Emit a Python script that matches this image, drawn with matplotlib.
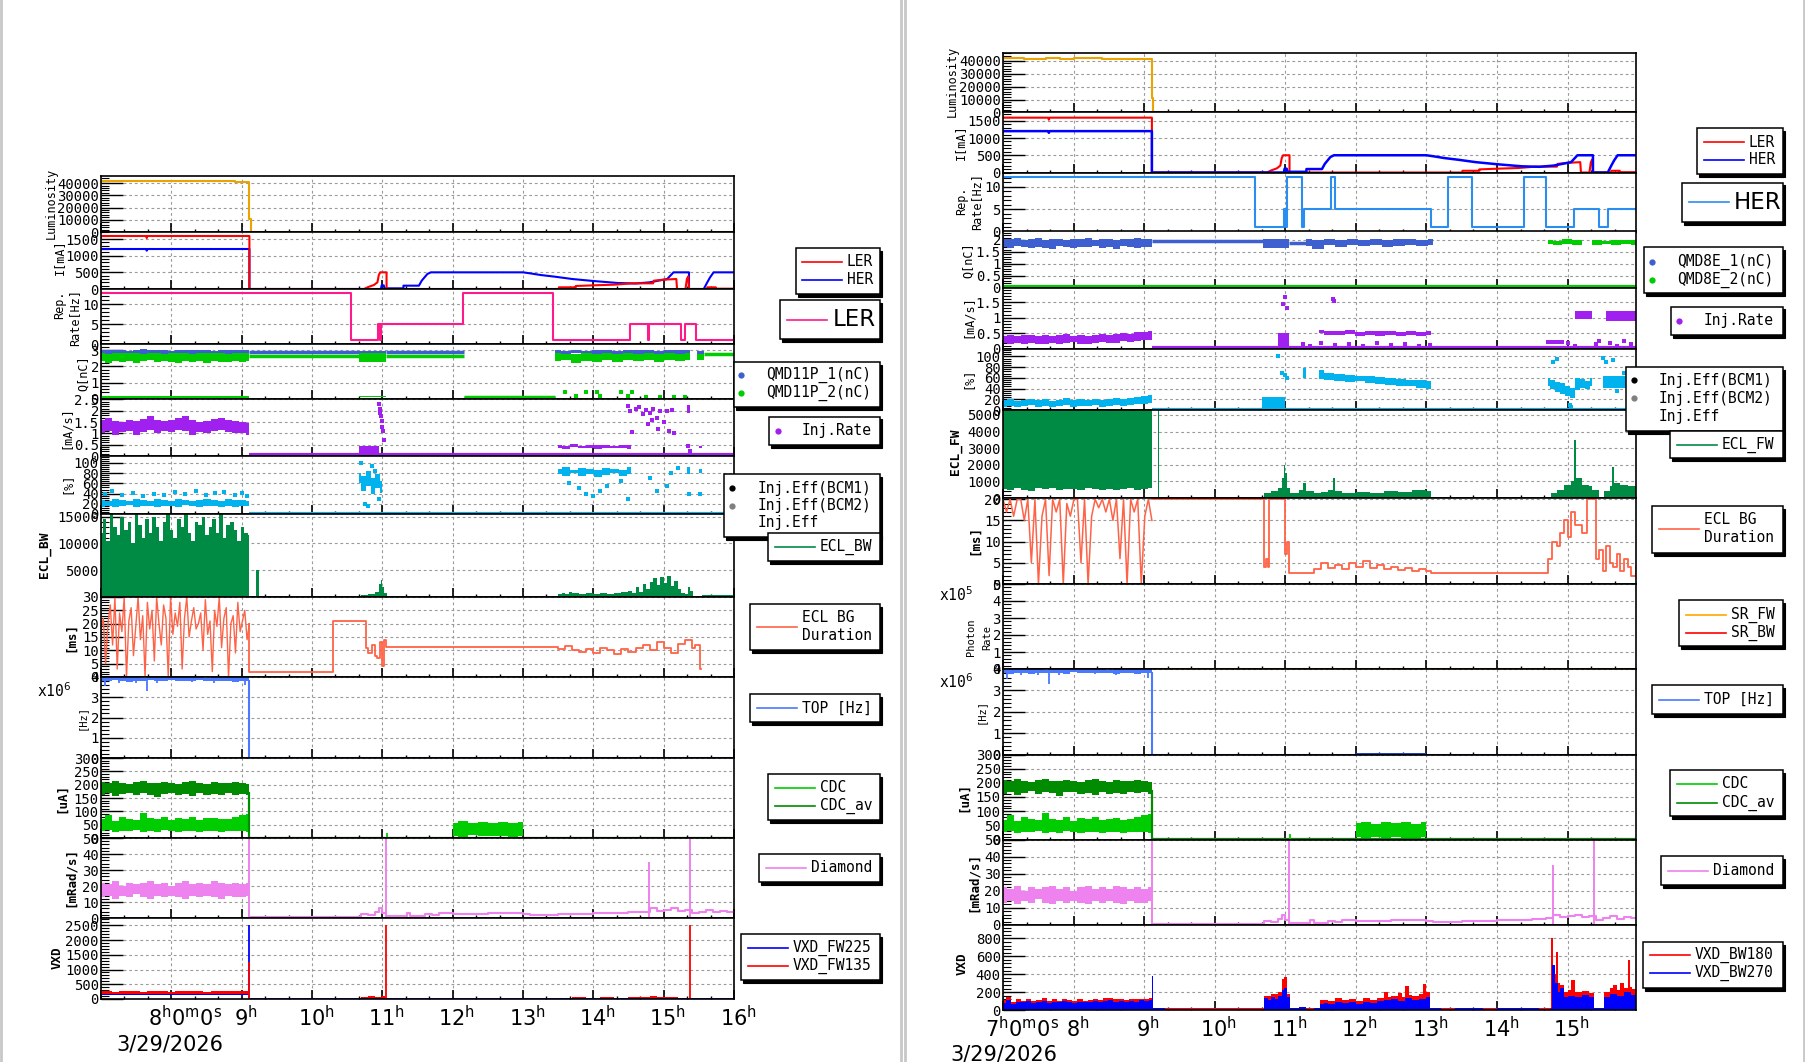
import numpy as np
import matplotlib.pyplot as plt
from matplotlib.patches import Rectangle
from matplotlib.lines import Line2D
from matplotlib.ticker import MultipleLocator, FixedLocator, FuncFormatter

W, H = 1806, 1062
fig = plt.figure(figsize=(W / 100, H / 100), dpi=100)
MONO = 'DejaVu Sans Mono'
SANS = 'DejaVu Sans'

T_DUMP = 9.11      # beam abort
T_END_L = 16.0
T_END_R = 15.97

# ---------------- data ----------------
# values during collisions (7:00 - 9:07), evenly spaced samples
LUMI_ON = [41900, 42100, 41800, 41700, 41600, 41700, 41900, 41800, 41600, 41700, 42000,
           41900, 42100, 41900, 41600, 41500, 41600, 41400, 41500, 41200, 41300, 41000]

LER_I = [(7.0, 1590), (7.64, 1590), (7.65, 1530), (7.66, 1590), (9.11, 1590), (9.11, 0),
         (10.74, 0), (10.8, 60), (10.88, 120), (10.93, 200), (10.95, 420), (10.97, 500),
         (11.06, 500), (11.06, 0), (13.51, 0), (13.51, 50), (13.75, 50), (13.75, 90),
         (14.0, 110), (14.3, 130), (14.55, 170), (14.85, 170), (14.86, 250), (15.0, 280),
         (15.18, 300), (15.19, 0), (15.31, 0), (15.33, 300), (15.35, 380), (15.36, 0),
         (15.62, 0), (15.62, 50), (15.74, 50), (15.74, 10), (16.0, 10)]
HER_I = [(7.0, 1200), (7.64, 1200), (7.65, 1150), (7.66, 1200), (9.11, 1200), (9.11, 0),
         (10.98, 0), (10.99, 110), (11.02, 110), (11.03, 20), (11.3, 20), (11.3, 100),
         (11.52, 100), (11.56, 250), (11.6, 350), (11.64, 450), (11.69, 500), (13.0, 500),
         (13.1, 470), (13.25, 420), (13.45, 370), (13.7, 300), (14.0, 240), (14.35, 180),
         (14.6, 165), (14.8, 200), (14.95, 260), (15.05, 300), (15.14, 500), (15.36, 500),
         (15.36, 0), (15.57, 0), (15.62, 200), (15.66, 350), (15.71, 500), (16.0, 500)]

REP_LER = [(7.0, 12.9), (10.55, 1), (10.94, 5), (10.965, 1), (10.975, 5), (12.14, 12.9),
           (13.42, 1), (14.52, 5), (14.78, 1), (14.795, 5), (15.24, 1), (15.31, 5),
           (15.46, 1), (16.0, 1)]
REP_HER = [(7.0, 12.3), (10.57, 1), (10.98, 5), (11.01, 1), (11.02, 12.3), (11.23, 1),
           (11.27, 5), (11.65, 12.3), (11.7, 5), (13.07, 1), (13.3, 12.3), (13.64, 1),
           (14.38, 12.3), (14.7, 1), (15.09, 5), (15.45, 1), (15.58, 5), (15.97, 5)]

# LER injection (left page)
Q1_LER_ON = [(2.72, 3.02), (2.70, 2.98), (2.74, 3.03), (2.70, 3.00), (2.72, 2.97), (2.69, 3.01),
             (2.73, 3.04), (2.71, 2.99), (2.70, 3.00), (2.74, 3.02), (2.70, 2.97), (2.72, 3.00),
             (2.70, 3.03), (2.68, 3.00), (2.73, 2.98), (2.70, 3.01), (2.72, 2.97), (2.70, 3.00),
             (2.74, 3.02), (2.69, 2.98), (2.72, 3.01), (2.70, 2.99)]
Q2_LER_ON = [(2.30, 2.82), (2.20, 2.78), (2.35, 2.80), (2.25, 2.84), (2.32, 2.79), (2.22, 2.82),
             (2.30, 2.78), (2.36, 2.83), (2.24, 2.80), (2.30, 2.77), (2.28, 2.82), (2.20, 2.80),
             (2.33, 2.84), (2.26, 2.78), (2.30, 2.81), (2.22, 2.79), (2.34, 2.83), (2.28, 2.80),
             (2.25, 2.78), (2.32, 2.82), (2.27, 2.80), (2.30, 2.79)]
Q1_LER_LATE = [(2.78, 3.0), (2.72, 2.95), (2.8, 3.02), (2.75, 2.97), (2.7, 2.99), (2.78, 3.03),
               (2.74, 2.96), (2.8, 3.0), (2.72, 2.98), (2.76, 3.02), (2.7, 2.95), (2.78, 3.0),
               (2.74, 2.98), (2.8, 3.03)]
Q2_LER_LATE = [(2.3, 2.8), (2.4, 2.75), (2.2, 2.78), (2.35, 2.82), (2.28, 2.74), (2.4, 2.8),
               (2.25, 2.76), (2.36, 2.82), (2.3, 2.78), (2.42, 2.8), (2.26, 2.75), (2.38, 2.81),
               (2.32, 2.77), (2.4, 2.8)]
Q1_LER_LINES = [(9.11, 10.67, 2.85), (11.05, 12.16, 2.85), (12.16, 13.46, 0.08)]
Q2_LER_LINES = [(9.11, 10.67, 2.66), (11.05, 12.16, 2.66), (12.16, 13.46, 0.14), (15.57, 16.0, 2.74)]
Q1_LER_CL = [(10.67, 11.05, 2.7, 2.95), (15.47, 15.57, 2.7, 2.95)]
Q2_LER_CL = [(7.0, 9.11, 0.09, 0.19), (10.67, 11.05, 2.25, 2.8), (15.47, 15.57, 2.4, 2.78),
             (10.67, 11.05, 0.1, 0.18)]
Q_LER_PTS = [(13.6, 0.45), (13.75, 0.2), (13.9, 0.45), (14.05, 0.45), (14.1, 0.2), (14.4, 0.45),
             (14.5, 0.2), (14.55, 0.45), (14.75, 0.1), (14.95, 0.1), (15.15, 0.1), (15.3, 0.15)]

RATE_LER_ON = [(1.00, 1.60), (1.10, 1.70), (0.95, 1.55), (1.05, 1.50), (1.10, 1.60), (0.95, 1.55),
               (1.05, 1.65), (1.15, 1.75), (1.00, 1.60), (1.10, 1.55), (1.05, 1.60), (1.15, 1.70),
               (1.10, 1.75), (0.95, 1.60), (1.05, 1.50), (1.00, 1.55), (1.10, 1.65), (1.15, 1.70),
               (1.05, 1.60), (1.00, 1.55), (1.00, 1.50), (0.95, 1.45)]
RATE_LER_LATE = [(0.36, 0.48), (0.33, 0.45), (0.38, 0.52), (0.34, 0.46), (0.36, 0.5), (0.32, 0.47),
                 (0.37, 0.5), (0.34, 0.45), (0.36, 0.49), (0.33, 0.47)]
RATE_LER_CL = [(10.67, 10.95, 0.1, 0.45), (15.33, 15.38, 1.9, 2.25), (15.5, 15.55, 0.35, 0.45)]
RATE_LER_PTS = [(10.95, 2.3), (10.96, 2.1), (10.97, 1.9), (10.98, 1.75), (10.99, 1.55), (11.0, 1.3),
                (11.01, 1.1), (11.02, 0.7), (14.5, 2.2), (14.52, 2.0), (14.55, 1.05), (14.6, 2.1),
                (14.65, 2.15), (14.7, 1.85), (14.75, 2.05), (14.78, 1.4), (14.8, 1.9), (14.83, 1.6),
                (14.85, 2.1), (14.9, 1.7), (14.92, 1.2), (14.95, 2.0), (15.0, 1.5), (15.05, 2.0),
                (15.08, 1.1), (15.12, 2.05), (15.15, 1.0), (15.35, 0.45), (15.37, 0.2)]

EFF_LER_ON = [(14, 28), (16, 26), (13, 30), (15, 27), (17, 25), (14, 29), (16, 27), (15, 26),
              (13, 30), (16, 28), (15, 26), (14, 29), (17, 27), (15, 25), (14, 28), (16, 30),
              (15, 27), (13, 26), (16, 29), (14, 27), (15, 28), (16, 26)]
EFF_LER_LATE = [(78, 88), (74, 92), (80, 86), (75, 90), (79, 89), (73, 86), (77, 91), (80, 88),
                (75, 87), (78, 92)]
EFF_LER_CL = [(15.33, 15.38, 78, 92), (15.5, 15.55, 80, 88)]
EFF_LER_EARLY = [(60, 80), (45, 75), (55, 85), (40, 70), (50, 78), (42, 65)]
EFF_LER_PTS = [(7.05, 40), (7.15, 45), (7.3, 37), (7.45, 42), (7.6, 36), (7.75, 40), (7.9, 38),
               (8.05, 43), (8.2, 39), (8.35, 45), (8.5, 37), (8.62, 41), (8.75, 44), (8.9, 38),
               (9.0, 42), (9.08, 36), (10.7, 100), (10.75, 20), (10.8, 15), (10.85, 95),
               (10.9, 85), (10.95, 30), (13.65, 60), (13.8, 50), (13.9, 40), (14.0, 35),
               (14.1, 45), (14.2, 55), (14.4, 65), (14.5, 30), (14.8, 70), (14.9, 45),
               (15.05, 55), (15.1, 80), (15.2, 90), (15.36, 40), (15.52, 40)]

ECL_BW_ON = [12000, 14500, 10500, 15500, 13000, 11500, 15000, 12500, 14000, 10000, 15500,
             13500, 11000, 14500, 12000, 15000, 13000, 10500, 14000, 15500, 12500, 11000,
             14500, 13000, 15500, 12000, 10500, 14000, 13500, 15000, 11500, 13000, 14500,
             12000, 15500, 11000, 13500, 14000, 12500, 10500, 13000, 12000, 11500]
ECL_BW_AFTER = [(9.11, 0), (9.2, 5000), (9.24, 0), (10.7, 400), (10.8, 600), (10.9, 900),
                (10.95, 2500), (10.98, 3200), (11.0, 1800), (11.03, 800), (11.06, 0),
                (13.5, 500), (13.55, 800), (13.6, 600), (13.65, 900), (13.7, 700), (13.8, 600),
                (13.9, 800), (14.0, 500), (14.1, 700), (14.2, 600), (14.3, 800), (14.4, 900),
                (14.5, 1200), (14.55, 800), (14.6, 1800), (14.65, 1000), (14.7, 2500),
                (14.75, 1500), (14.8, 2800), (14.85, 3500), (14.9, 2200), (14.95, 3800),
                (15.0, 2600), (15.05, 4000), (15.1, 2000), (15.15, 3000), (15.2, 1500),
                (15.25, 800), (15.3, 500), (15.35, 1800), (15.38, 1200), (15.42, 0),
                (15.55, 400), (15.7, 300), (15.8, 350), (15.9, 300), (16.0, 300)]

DUR_LER_ON = [18, 22, 5, 20, 27, 12, 30, 3, 24, 17, 30, 0, 21, 26, 8, 19, 30, 14, 23, 0, 28,
              18, 25, 6, 30, 20, 12, 27, 22, 0, 30, 16, 24, 19, 28, 3, 22, 30, 15, 21, 26, 18, 20,
              24, 10, 29, 16, 21, 2, 25, 19, 30, 11, 22, 26, 0, 20, 23, 9, 28, 17, 21, 25, 14, 20]
DUR_LER_AFTER = [(9.11, 2), (10.3, 21), (10.77, 11), (10.8, 9), (10.85, 12), (10.9, 8),
                 (10.93, 7), (10.97, 13), (11.0, 4), (11.02, 14), (11.05, 11.2), (13.5, 10.5),
                 (13.6, 11.5), (13.7, 10), (13.8, 9.5), (13.9, 10.5), (14.0, 9), (14.1, 11),
                 (14.2, 10), (14.3, 8.5), (14.4, 10.5), (14.5, 9.5), (14.6, 11), (14.7, 12),
                 (14.8, 10), (14.9, 13), (15.0, 11), (15.1, 9), (15.2, 12.5), (15.3, 14),
                 (15.4, 11), (15.45, 12), (15.52, 3), (15.53, 3)]

# shared detector pages
TOP_ON = [(3.80, 3.99), (3.78, 3.98), (3.83, 4.0), (3.80, 3.98), (3.76, 3.99), (3.82, 4.0),
          (3.79, 3.97), (3.83, 3.99), (3.81, 4.0), (3.78, 3.98), (3.84, 3.99), (3.80, 4.0),
          (3.82, 3.98), (3.79, 3.99), (3.83, 4.0), (3.80, 3.97), (3.78, 3.99), (3.82, 4.0),
          (3.80, 3.98), (3.77, 3.99), (3.81, 4.0), (3.79, 3.98)]
TOP_DIPS = [(7.05, 3.55), (7.25, 3.7), (7.5, 3.7), (7.65, 3.3), (7.8, 3.7), (8.3, 3.75),
            (8.6, 3.7), (9.05, 3.6)]
CDC_AV_ON = [(162, 210), (168, 205), (158, 212), (165, 208), (170, 203), (160, 210), (167, 214),
             (163, 207), (155, 205), (166, 211), (169, 208), (161, 204), (164, 209), (158, 213),
             (168, 206), (162, 203), (165, 209), (160, 207), (167, 205), (163, 210), (166, 206),
             (160, 204)]
CDC_ON = [(25, 70), (30, 85), (22, 65), (28, 78), (25, 72), (30, 68), (24, 95), (27, 74), (22, 70),
          (30, 80), (26, 66), (24, 75), (28, 72), (25, 78), (23, 69), (27, 74), (26, 76), (24, 70),
          (28, 72), (25, 80), (27, 85), (24, 90)]
CDC_LATE = [(8, 58), (5, 62), (10, 55), (6, 60), (9, 57), (7, 60), (5, 56), (8, 61)]
DIA_ON = [(13, 22), (14, 21), (12, 23), (14, 20), (13, 22), (15, 21), (13, 22), (12, 23), (14, 21),
          (13, 22), (14, 20), (13, 22), (12, 23), (14, 21), (13, 22), (14, 21), (13, 23), (12, 22),
          (14, 21), (13, 22), (13, 21), (14, 22)]
DIA_AFTER = [(9.11, 0.8), (10.65, 0.8), (10.7, 2.5), (10.8, 2), (10.9, 3.5), (10.95, 6), (11.0, 3),
             (11.05, 1), (11.3, 1), (11.35, 3), (11.4, 1.2), (11.6, 2.5), (11.7, 2), (11.8, 3),
             (12.0, 2.5), (12.5, 3), (13.0, 2.5), (13.1, 2), (13.5, 2.5), (14.0, 3), (14.5, 3.5),
             (14.7, 4), (14.8, 6), (14.9, 4.5), (15.0, 5), (15.1, 6), (15.2, 4.5), (15.3, 5),
             (15.4, 3), (15.5, 4), (15.6, 5), (15.7, 3.5), (15.8, 4.5), (15.9, 4), (16.0, 3.5)]
DIA_SPIKES = [(9.11, 50), (11.05, 50), (14.79, 35), (15.38, 52)]

VXD135_ON = [(180, 255), (175, 260), (182, 250), (178, 258), (176, 262), (180, 255), (184, 250),
             (178, 258), (175, 265), (180, 255), (182, 252), (176, 260), (180, 258), (178, 262),
             (183, 255), (177, 250), (180, 258), (176, 265), (179, 270), (181, 260), (178, 255),
             (180, 258)]
VXD135_AFTER = [(10.7, 60), (10.8, 90), (10.9, 70), (11.0, 100), (11.04, 0), (13.5, 40),
                (13.7, 60), (13.9, 45), (14.1, 55), (14.3, 50), (14.5, 65), (14.7, 80),
                (14.8, 110), (14.9, 70), (15.0, 75), (15.1, 60), (15.2, 40), (15.3, 0),
                (15.6, 40), (15.7, 0)]
VXD_L_SPIKES_BLUE = [(9.11, 2500)]
VXD_L_SPIKES_RED = [(9.11, 1250), (11.05, 2500), (15.37, 2500)]

# HER injection (right page)
Q1_HER_ON = [(1.72, 2.05), (1.68, 2.02), (1.75, 2.06), (1.70, 2.00), (1.65, 2.04), (1.72, 2.07),
             (1.68, 2.01), (1.62, 2.03), (1.74, 2.05), (1.70, 2.00), (1.66, 2.04), (1.72, 2.02),
             (1.69, 2.06), (1.75, 2.01), (1.67, 2.03), (1.71, 2.05), (1.64, 2.00), (1.73, 2.04),
             (1.70, 2.02), (1.68, 2.06), (1.72, 2.03), (1.70, 2.05)]
Q1_HER_LATE = [(1.75, 2.02), (1.62, 2.0), (1.78, 2.04), (1.72, 1.98), (1.8, 2.03), (1.74, 2.0),
               (1.78, 2.05), (1.7, 1.99), (1.76, 2.02), (1.8, 2.04), (1.73, 1.98), (1.77, 2.03)]
Q2_HER_LATE = [(1.82, 2.0), (1.78, 1.96), (1.84, 2.02), (1.8, 1.98), (1.9, 1.92), (1.79, 2.0),
               (1.83, 1.97), (1.78, 2.01), (1.82, 1.98), (1.8, 2.0)]
Q1_HER_LINES = [(9.11, 10.68, 1.94), (11.05, 11.3, 1.88)]
Q2_HER_LINES = [(7.0, 15.97, 0.03)]
Q1_HER_CL = [(10.68, 11.05, 1.68, 2.02)]

RATE_HER_ON = [(0.18, 0.42), (0.15, 0.45), (0.20, 0.40), (0.16, 0.44), (0.19, 0.46), (0.17, 0.42),
               (0.15, 0.45), (0.20, 0.41), (0.16, 0.44), (0.18, 0.47), (0.21, 0.43), (0.17, 0.45),
               (0.15, 0.42), (0.19, 0.46), (0.22, 0.48), (0.18, 0.44), (0.20, 0.47), (0.24, 0.50),
               (0.22, 0.49), (0.26, 0.53), (0.28, 0.55), (0.30, 0.58)]
RATE_HER_LATE = [(0.5, 0.62), (0.46, 0.58), (0.44, 0.56), (0.47, 0.6), (0.43, 0.55), (0.46, 0.58),
                 (0.42, 0.56), (0.45, 0.57), (0.41, 0.55), (0.44, 0.58), (0.42, 0.54), (0.45, 0.57)]
RATE_HER_CL = [(10.9, 11.05, 0.1, 0.5), (14.7, 14.95, 0.15, 0.3), (15.1, 15.35, 0.95, 1.2),
               (15.55, 15.97, 0.9, 1.2)]
RATE_HER_PTS = [(10.97, 1.45), (11.0, 1.66), (11.02, 1.3), (11.67, 1.6), (11.69, 1.55),
                (11.25, 0.15), (11.35, 0.1), (11.5, 0.2), (11.7, 0.12), (11.9, 0.15), (12.1, 0.1),
                (12.3, 0.18), (12.5, 0.12), (12.7, 0.15), (12.9, 0.1), (13.05, 0.12), (15.0, 0.2),
                (15.1, 0.1), (15.4, 0.15), (15.45, 0.25), (15.6, 0.2), (15.7, 0.1), (15.8, 0.25),
                (15.9, 0.15)]

EFF_HER_ON = [(6, 18), (8, 20), (5, 17), (7, 19), (9, 21), (6, 18), (8, 20), (5, 17), (7, 19),
              (9, 22), (6, 18), (8, 20), (7, 19), (9, 21), (6, 18), (8, 20), (9, 22), (8, 21),
              (10, 23), (11, 24), (12, 26), (13, 28)]
EFF_HER_LATE = [(58, 74), (56, 70), (55, 68), (52, 66), (54, 64), (50, 63), (49, 62), (47, 60),
                (45, 58), (44, 57), (42, 56), (40, 55)]
EFF_HER_INJ2 = [(45, 60), (40, 56), (34, 52), (30, 50), (26, 45), (22, 42), (38, 60), (42, 58),
                (40, 55), (44, 60)]
EFF_HER_CL = [(10.67, 11.0, 3, 25), (11.25, 11.3, 60, 78), (15.5, 15.97, 41, 63)]
EFF_HER_PTS = [(10.9, 100), (10.95, 70), (11.0, 65), (11.02, 60), (14.8, 90), (14.85, 95),
               (15.03, 10), (15.05, 5), (15.5, 98), (15.55, 90), (15.65, 93), (15.7, 35),
               (15.8, 70), (15.9, 38)]

ECL_FW_LO_ON = [550, 480, 620, 500, 450, 580, 520, 600, 470, 530, 560, 490, 610, 520, 480, 570,
                500, 540, 620, 480, 560, 600]
ECL_FW_AFTER = [(9.11, 0), (9.19, 5300), (9.21, 0), (10.7, 300), (10.8, 400), (10.9, 600),
                (10.95, 1200), (10.98, 2000), (11.0, 1500), (11.03, 600), (11.06, 300),
                (11.2, 500), (11.25, 900), (11.3, 400), (11.4, 300), (11.5, 350), (11.6, 500),
                (11.67, 1200), (11.7, 400), (11.8, 300), (12.0, 350), (12.2, 300), (12.4, 450),
                (12.6, 350), (12.8, 500), (13.0, 400), (13.07, 0), (14.77, 300), (14.85, 500),
                (14.95, 800), (15.05, 1000), (15.09, 3500), (15.12, 1200), (15.2, 800),
                (15.3, 700), (15.35, 500), (15.45, 0), (15.52, 400), (15.6, 700), (15.63, 1850),
                (15.66, 900), (15.75, 800), (15.85, 700), (15.97, 600)]

DUR_HER_ON = [20, 17, 20, 16, 20, 20, 15, 20, 5, 20, 0, 16, 20, 2, 20, 17, 20, 0, 19, 16, 20, 20,
              5, 20, 0, 16, 20, 18, 20, 17, 20, 15, 20, 6, 20, 0, 20, 17, 20, 0, 16, 20, 15]
DUR_HER_AFTER = [(9.11, 20), (10.68, 20), (10.7, 4), (10.73, 6), (10.76, 4), (10.77, 20),
                 (11.0, 7), (11.03, 10), (11.05, 2.7), (11.4, 3.5), (11.5, 5), (11.6, 3.8),
                 (11.7, 4.5), (11.8, 3.5), (11.9, 5), (12.0, 4), (12.1, 5.5), (12.2, 3.8),
                 (12.3, 4.5), (12.4, 3.5), (12.5, 4), (12.6, 3.2), (12.7, 3.8), (12.8, 3),
                 (12.9, 3.5), (13.0, 3), (13.07, 2.6), (14.72, 6), (14.78, 10), (14.85, 9),
                 (14.9, 12), (14.95, 15), (15.0, 11), (15.05, 17), (15.1, 14), (15.2, 12),
                 (15.28, 20), (15.4, 6), (15.45, 8), (15.5, 3), (15.55, 9), (15.6, 5),
                 (15.65, 4), (15.7, 7), (15.75, 3), (15.8, 6), (15.85, 4), (15.9, 2), (15.97, 4)]

VXD_HER_ON = [(80, 110), (110, 140), (70, 95), (95, 120), (85, 105), (100, 125), (75, 100),
              (90, 115), (105, 130), (80, 100), (95, 120), (85, 105), (100, 125), (90, 110),
              (80, 100), (95, 120), (85, 105), (90, 115), (100, 125), (95, 115), (105, 130),
              (110, 135), (90, 120), (100, 118), (85, 110), (105, 125), (95, 120), (110, 128),
              (100, 122), (115, 130)]
VXD270_AFTER = [(9.11, 380), (9.12, 20), (9.3, 12), (9.5, 8), (9.7, 15), (10.0, 6), (10.3, 10),
                (10.5, 14), (10.7, 130), (10.75, 110), (10.8, 150), (10.85, 120), (10.9, 160),
                (10.95, 220), (10.98, 250), (11.02, 150), (11.06, 20), (11.2, 30), (11.3, 10),
                (11.4, 25), (11.49, 70), (11.55, 80), (11.6, 65), (11.7, 90), (11.8, 75),
                (11.9, 85), (12.0, 70), (12.1, 95), (12.2, 80), (12.3, 100), (12.4, 110),
                (12.5, 120), (12.6, 105), (12.7, 130), (12.8, 115), (12.9, 125), (13.0, 140),
                (13.05, 20), (13.2, 15), (13.4, 25), (13.6, 20), (13.8, 15), (14.0, 25),
                (14.2, 18), (14.4, 22), (14.6, 15), (14.76, 20), (14.78, 500), (14.82, 300),
                (14.86, 200), (14.9, 250), (14.95, 150), (15.0, 160), (15.1, 140), (15.2, 170),
                (15.3, 150), (15.37, 20), (15.52, 150), (15.6, 180), (15.7, 160), (15.8, 200),
                (15.9, 170), (15.97, 160)]
VXD180_AFTER = [(9.11, 25), (10.7, 160), (10.8, 180), (10.9, 200), (10.95, 350), (10.98, 370),
                (11.02, 180), (11.06, 25), (11.49, 110), (11.6, 100), (11.7, 130), (11.8, 110),
                (11.9, 120), (12.0, 105), (12.1, 130), (12.2, 115), (12.3, 135), (12.4, 200),
                (12.45, 140), (12.5, 160), (12.6, 190), (12.65, 140), (12.7, 270), (12.75, 170),
                (12.8, 160), (12.9, 180), (12.95, 290), (13.0, 200), (13.05, 25), (14.76, 25),
                (14.77, 800), (14.8, 400), (14.83, 650), (14.86, 300), (14.9, 280), (14.95, 200),
                (15.0, 220), (15.05, 330), (15.1, 200), (15.2, 210), (15.3, 190), (15.37, 25),
                (15.52, 200), (15.6, 250), (15.65, 280), (15.7, 220), (15.75, 300), (15.8, 250),
                (15.85, 560), (15.88, 260), (15.92, 230), (15.97, 200)]

# colours
C_LUMI, C_LER, C_HER = '#eba300', '#ff0000', '#0000ff'
C_PINK, C_HREP = '#ff1a8c', '#2a8ef0'
C_Q1, C_Q2 = '#3d5fcf', '#00cd00'
C_RATE, C_EFF = '#a020f0', '#00b2ee'
C_ECL, C_DUR, C_TOP = '#008b45', '#ff6347', '#4a78ff'
C_CDC, C_CDCAV, C_DIA = '#00cd00', '#008b00', '#ee82ee'


# ---------------- helpers ----------------
def fx(x):
    return x / W


def fy(y):
    return 1 - y / H


def px_axes(x0, x1, ytop, ybot):
    return fig.add_axes([x0 / W, 1 - ybot / H, (x1 - x0) / W, (ybot - ytop) / H])


def style(ax, xmax, ylim, yticks, yminor):
    ax.set_xlim(7.0, xmax)
    ax.set_ylim(*ylim)
    ax.xaxis.set_major_locator(MultipleLocator(1.0))
    ax.xaxis.set_minor_locator(MultipleLocator(1 / 3))
    ax.yaxis.set_major_locator(FixedLocator(yticks))
    ax.yaxis.set_minor_locator(MultipleLocator(yminor))
    ax.yaxis.set_major_formatter(FuncFormatter(lambda v, p: '%g' % v))
    ax.tick_params(axis='x', which='major', direction='in', length=6.5, width=1.2,
                   labelbottom=False)
    ax.tick_params(axis='x', which='minor', direction='in', length=2.5, width=1)
    ax.tick_params(axis='y', which='major', direction='in', length=16, width=1, pad=1.5,
                   labelsize=10, labelfontfamily=MONO)
    ax.tick_params(axis='y', which='minor', direction='in', length=6, width=0.8)
    ax.grid(True, which='major', color='#9a9a9a', ls=(0, (2.5, 2.5)), lw=0.8)
    ax.set_axisbelow(True)
    for s in ax.spines.values():
        s.set_linewidth(1.2)


def t_on(n):
    return np.linspace(7.0, T_DUMP, n)


def band(ax, pairs, color, t0=7.0, t1=T_DUMP):
    lo, hi = zip(*pairs)
    t = np.linspace(t0, t1, len(pairs))
    ax.fill_between(t, lo, hi, step='mid', color=color, lw=0)


def rects(ax, segs, color):
    for a, b, lo, hi in segs:
        ax.fill_between([a, b], [lo, lo], [hi, hi], color=color, lw=0)


def hlines(ax, segs, color, lw=2.5):
    for a, b, v in segs:
        ax.plot([a, b], [v, v], color=color, lw=lw, solid_capstyle='butt')


def path(ax, pts, color, lw=1.5, ds='default'):
    t, v = zip(*pts)
    ax.plot(t, v, color=color, lw=lw, drawstyle=ds)


def stepfill(ax, pts, color):
    t, v = zip(*pts)
    ax.fill_between(t, 0, v, step='post', color=color, lw=0)


def spikes(ax, pts, color, lw=1.3, base=0):
    t, v = zip(*pts)
    ax.vlines(t, base, v, color=color, lw=lw)


def dots(ax, pts, color, ms=2.6):
    t, v = zip(*pts)
    ax.plot(t, v, ls='none', marker='s', ms=ms, mew=0, color=color)


def ylab(x, y, s, size=8.5, weight='normal'):
    fig.text(fx(x), fy(y), s, rotation=90, ha='center', va='center', fontsize=size,
             family=MONO, weight=weight)


def legend(box, rows, size=10.5, family=MONO):
    x0, y0, x1, y1 = box
    fig.patches.append(Rectangle((fx(x0 + 2.5), fy(y1 + 2.5)), (x1 - x0) / W, (y1 - y0) / H,
                                 transform=fig.transFigure, fc='black', ec='black', lw=0.8,
                                 zorder=5))
    fig.patches.append(Rectangle((fx(x0), fy(y1)), (x1 - x0) / W, (y1 - y0) / H,
                                 transform=fig.transFigure, fc='white', ec='black', lw=1.1,
                                 zorder=5))
    for kind, color, y, xs, xt, text in rows:
        if kind == 'line':
            fig.lines.append(Line2D([fx(xs), fx(xs + 40)], [fy(y), fy(y)], color=color, lw=1.2,
                                    transform=fig.transFigure, zorder=6))
        elif kind == 'dot':
            fig.lines.append(Line2D([fx(xs)], [fy(y)], marker='o', ms=4.5, mew=0, color=color,
                                    transform=fig.transFigure, zorder=6))
        fig.text(fx(xt), fy(y), text, ha='left', va='center', fontsize=size, family=family,
                 zorder=7)


def hour_labels(x0, pph, hours, first, first_cx, base, date_cx, date_base):
    for h in hours:
        fig.text(fx(x0 + (h - 7) * pph + 4), fy(base), r'%d$^{\rm h}$' % h, ha='center',
                 va='baseline', fontsize=15, family=SANS)
    fig.text(fx(first_cx), fy(base), first, ha='center', va='baseline', fontsize=15, family=SANS)
    fig.text(fx(date_cx), fy(date_base), '3/29/2026', ha='center', va='baseline', fontsize=15,
             family=SANS)


def shared_lower(ax_top, ax_cdc, ax_dia, xmax):
    # TOP
    style(ax_top, xmax, (0, 4.0), [0, 1, 2, 3, 4], 0.2)
    band(ax_top, TOP_ON, C_TOP)
    spikes(ax_top, TOP_DIPS, C_TOP, lw=1.3, base=3.9)
    ax_top.plot([T_DUMP, T_DUMP, xmax], [3.8, 0.0, 0.0], color=C_TOP, lw=1.5)
    rects(ax_top, [(12.0, 13.0, 0.0, 0.07)], '#2040c0')
    # CDC
    style(ax_cdc, xmax, (0, 300), [0, 50, 100, 150, 200, 250, 300], 10)
    band(ax_cdc, CDC_AV_ON, C_CDCAV)
    band(ax_cdc, CDC_ON, C_CDC)
    ax_cdc.plot([T_DUMP, T_DUMP, xmax], [170, 0.5, 0.5], color=C_CDCAV, lw=1.6)
    band(ax_cdc, CDC_LATE, C_CDC, 12.0, 13.0)
    spikes(ax_cdc, [(11.06, 18)], C_CDC)
    # Diamond
    style(ax_dia, xmax, (0, 50), [0, 10, 20, 30, 40, 50], 2)
    band(ax_dia, DIA_ON, C_DIA)
    path(ax_dia, DIA_AFTER, C_DIA, lw=1.5, ds='steps-post')
    spikes(ax_dia, DIA_SPIKES, C_DIA, lw=1.4)


# ---------------- left page (LER) ----------------
L_EDGES = [176, 232, 289, 344, 399, 456, 514, 597, 677, 758, 838, 918, 999]
axL = [px_axes(101, 734, L_EDGES[i], L_EDGES[i + 1]) for i in range(12)]

a = axL[0]
style(a, T_END_L, (0, 45800), [0, 10000, 20000, 30000, 40000], 2000)
t = t_on(len(LUMI_ON))
a.plot(np.r_[t, T_DUMP, T_DUMP + 0.02, T_DUMP + 0.02, T_END_L],
       np.r_[LUMI_ON, 11000, 11000, 0, 0], color=C_LUMI, lw=1.5, drawstyle='steps-post')

a = axL[1]
style(a, T_END_L, (0, 1710), [0, 500, 1000, 1500], 100)
path(a, HER_I, C_HER)
path(a, LER_I, C_LER)

a = axL[2]
style(a, T_END_L, (0, 13.8), [0, 5, 10], 1)
path(a, REP_LER, C_PINK, ds='steps-post')

a = axL[3]
style(a, T_END_L, (0, 3.37), [0, 1, 2, 3], 0.2)
band(a, Q1_LER_ON, C_Q1)
band(a, Q2_LER_ON, C_Q2)
band(a, Q1_LER_LATE, C_Q1, 13.46, 15.38)
band(a, Q2_LER_LATE, C_Q2, 13.46, 15.38)
rects(a, Q1_LER_CL, C_Q1)
rects(a, Q2_LER_CL, C_Q2)
hlines(a, Q1_LER_LINES, C_Q1)
hlines(a, Q2_LER_LINES, C_Q2)
dots(a, Q_LER_PTS, C_Q2)

a = axL[4]
style(a, T_END_L, (0, 2.52), [0, 0.5, 1, 1.5, 2, 2.5], 0.1)
band(a, RATE_LER_ON, C_RATE)
hlines(a, [(T_DUMP, T_END_L, 0.03)], C_RATE, lw=3)
band(a, RATE_LER_LATE, C_RATE, 13.5, 14.53)
rects(a, RATE_LER_CL, C_RATE)
dots(a, RATE_LER_PTS, C_RATE)

a = axL[5]
style(a, T_END_L, (0, 113.7), [0, 20, 40, 60, 80, 100], 4)
band(a, EFF_LER_ON, C_EFF)
hlines(a, [(T_DUMP, T_END_L, 0.6)], C_EFF, lw=3)
band(a, EFF_LER_EARLY, C_EFF, 10.67, 11.0)
band(a, EFF_LER_LATE, C_EFF, 13.5, 14.53)
rects(a, EFF_LER_CL, C_EFF)
dots(a, EFF_LER_PTS, C_EFF)

a = axL[6]
style(a, T_END_L, (0, 15500), [5000, 10000, 15000], 1000)
a.fill_between(t_on(len(ECL_BW_ON)), 0, ECL_BW_ON, step='mid', color=C_ECL, lw=0)
stepfill(a, ECL_BW_AFTER, C_ECL)
hlines(a, [(T_DUMP, T_END_L, 0)], C_ECL, lw=2)

a = axL[7]
style(a, T_END_L, (0, 30), [0, 5, 10, 15, 20, 25, 30], 1)
a.plot(t_on(len(DUR_LER_ON)), DUR_LER_ON, color=C_DUR, lw=1.0)
path(a, [(T_DUMP, 20)] + DUR_LER_AFTER, C_DUR, lw=1.3, ds='steps-post')

shared_lower(axL[8], axL[9], axL[10], T_END_L)

a = axL[11]
style(a, T_END_L, (0, 2750), [0, 500, 1000, 1500, 2000, 2500], 100)
rects(a, [(7.0, T_DUMP, 120, 165)], C_HER)
band(a, VXD135_ON, C_LER)
hlines(a, [(T_DUMP, T_END_L, 15)], C_HER, lw=2)
stepfill(a, VXD135_AFTER, C_LER)
spikes(a, VXD_L_SPIKES_BLUE, C_HER)
spikes(a, VXD_L_SPIKES_RED, C_LER)

# ---------------- right page (HER) ----------------
R_EDGES = [53, 112.5, 172.5, 231.5, 288, 349, 410, 498, 584, 669, 754.5, 839.5, 925, 1010]
axR = [px_axes(1003, 1636, R_EDGES[i], R_EDGES[i + 1]) for i in range(13)]

a = axR[0]
style(a, T_END_R, (0, 46000), [0, 10000, 20000, 30000, 40000], 2000)
a.plot(np.r_[t, T_DUMP, T_DUMP + 0.02, T_DUMP + 0.02, T_END_L],
       np.r_[LUMI_ON, 11000, 11000, 0, 0], color=C_LUMI, lw=1.5, drawstyle='steps-post')

a = axR[1]
style(a, T_END_R, (0, 1740), [0, 500, 1000, 1500], 100)
path(a, LER_I, C_LER)
path(a, HER_I, C_HER, lw=1.8)

a = axR[2]
style(a, T_END_R, (0, 13.2), [0, 5, 10], 1)
path(a, REP_HER, C_HREP, ds='steps-post')

a = axR[3]
style(a, T_END_R, (0, 2.35), [0, 0.5, 1, 1.5, 2], 0.1)
band(a, Q1_HER_ON, C_Q1)
band(a, Q1_HER_LATE, C_Q1, 11.3, 13.1)
rects(a, Q1_HER_CL, C_Q1)
band(a, Q2_HER_LATE, C_Q2, 14.72, 15.97)
hlines(a, Q1_HER_LINES, C_Q1)
hlines(a, Q2_HER_LINES, C_Q2, lw=3)

a = axR[4]
style(a, T_END_R, (0, 1.95), [0, 0.5, 1, 1.5], 0.1)
band(a, RATE_HER_ON, C_RATE)
hlines(a, [(T_DUMP, T_END_R, 0.03)], C_RATE, lw=3)
band(a, RATE_HER_LATE, C_RATE, 11.48, 13.07)
rects(a, RATE_HER_CL, C_RATE)
dots(a, RATE_HER_PTS, C_RATE)

a = axR[5]
style(a, T_END_R, (0, 114), [0, 20, 40, 60, 80, 100], 4)
band(a, EFF_HER_ON, C_EFF)
hlines(a, [(T_DUMP, T_END_R, 0.6)], C_EFF, lw=3)
band(a, EFF_HER_LATE, C_EFF, 11.48, 13.07)
band(a, EFF_HER_INJ2, C_EFF, 14.72, 15.35)
rects(a, EFF_HER_CL, C_EFF)
dots(a, EFF_HER_PTS, C_EFF)

a = axR[6]
style(a, T_END_R, (0, 5300), [0, 1000, 2000, 3000, 4000, 5000], 200)
a.fill_between(t_on(len(ECL_FW_LO_ON)), ECL_FW_LO_ON, 5300, step='mid', color=C_ECL, lw=0)
stepfill(a, ECL_FW_AFTER, C_ECL)
hlines(a, [(T_DUMP, T_END_R, 0)], C_ECL, lw=2)

a = axR[7]
style(a, T_END_R, (0, 20.3), [0, 5, 10, 15, 20], 1)
a.plot(t_on(len(DUR_HER_ON)), DUR_HER_ON, color=C_DUR, lw=1.1)
path(a, DUR_HER_AFTER, C_DUR, lw=1.3, ds='steps-post')

a = axR[8]
style(a, T_END_R, (0, 5), [0, 1, 2, 3, 4, 5], 0.2)
hlines(a, [(7.0, T_END_R, 0.02)], '#ffa500', lw=1.5)

shared_lower(axR[9], axR[10], axR[11], T_END_R)

a = axR[12]
style(a, T_END_R, (0, 950), [0, 200, 400, 600, 800], 40)
blue_on, red_on = zip(*VXD_HER_ON)
t30 = t_on(len(VXD_HER_ON))
a.fill_between(t30, 0, red_on, step='mid', color=C_LER, lw=0)
a.fill_between(t30, 0, blue_on, step='mid', color=C_HER, lw=0)
stepfill(a, VXD180_AFTER, C_LER)
stepfill(a, VXD270_AFTER, C_HER)

# ---------------- axis titles ----------------
ylab(51.7, 203, 'Luminosity')
ylab(59, 257, 'I[mA]')
ylab(60, 305, 'Rep.')
ylab(75, 317, 'Rate[Hz]')
ylab(83, 373, 'Q[nC]')
ylab(66.7, 428, '[mA/s]')
ylab(66.7, 483, '[%]')
ylab(44, 555, 'ECL_BW', 9.3, 'bold')
ylab(70.7, 637, '[ms]', 9, 'bold')
ylab(81.7, 717, '[Hz]', 7.5)
ylab(61.7, 798, '[uA]', 9, 'bold')
ylab(70.7, 877, '[mRad/s]', 9, 'bold')
ylab(57.3, 958, 'VXD', 9, 'bold')
fig.text(fx(37), fy(697), r'x10$^{6}$', fontsize=10.5, family=MONO, va='baseline')

ylab(952.7, 81.7, 'Luminosity')
ylab(960.7, 141.7, 'I[mA]')
ylab(961.7, 201, 'Rep.')
ylab(976.7, 201, 'Rate[Hz]')
ylab(968.3, 260, 'Q[nC]')
ylab(968.3, 317, '[mA/s]')
ylab(968.3, 378, '[%]')
ylab(956, 452, 'ECL_FW', 9.3, 'bold')
ylab(975, 540, '[ms]', 9, 'bold')
ylab(971, 637, 'Photon', 7.5)
ylab(987, 637, 'Rate', 7.5)
ylab(981, 711, '[Hz]', 7.5)
ylab(964, 797, '[uA]', 9, 'bold')
ylab(973, 882, '[mRad/s]', 9, 'bold')
ylab(962, 964, 'VXD', 9, 'bold')
fig.text(fx(939), fy(601), r'x10$^{5}$', fontsize=10.5, family=MONO, va='baseline')
fig.text(fx(939), fy(688), r'x10$^{6}$', fontsize=10.5, family=MONO, va='baseline')

# time axis labels
hour_labels(101, 633 / 9, range(9, 17), r'8$^{\rm h}$0$^{\rm m}$0$^{\rm s}$', 185.5, 1026,
            170, 1050)
hour_labels(1003, 633 / 8.97, range(8, 16), r'7$^{\rm h}$0$^{\rm m}$0$^{\rm s}$', 1022, 1037,
            1004, 1061)

# ---------------- legends ----------------
legend((796, 248, 880, 294), [('line', C_LER, 262, 802, 847, 'LER'),
                              ('line', C_HER, 280, 802, 847, 'HER')])
legend((780, 300, 880, 339), [('line', C_PINK, 319.5, 787, 833, 'LER')], size=16.5, family=SANS)
legend((734, 362, 880, 407), [('dot', C_Q1, 375, 741.3, 766, 'QMD11P_1(nC)'),
                              ('dot', C_Q2, 393, 741.3, 766, 'QMD11P_2(nC)')])
legend((769, 417, 880, 445), [('dot', C_RATE, 431, 777.7, 802, 'Inj.Rate')])
legend((724, 474, 880, 537), [('dot', 'black', 488, 732, 757.7, 'Inj.Eff(BCM1)'),
                              ('dot', '#808080', 505.5, 732, 757.7, 'Inj.Eff(BCM2)'),
                              ('none', None, 523, 732, 757.7, 'Inj.Eff')])
legend((768, 533, 880, 561), [('line', C_ECL, 547, 775, 820, 'ECL_BW')])
legend((750, 604, 880, 650), [('line', C_DUR, 627, 757, 802, ''),
                              ('none', None, 618, 0, 802, 'ECL BG'),
                              ('none', None, 636, 0, 802, 'Duration')])
legend((750, 694, 880, 722), [('line', C_TOP, 708, 757, 802, 'TOP [Hz]')])
legend((768, 774, 880, 820), [('line', C_CDC, 788, 775, 820, 'CDC'),
                              ('line', C_CDCAV, 806, 775, 820, 'CDC_av')])
legend((759, 854, 880, 882), [('line', C_DIA, 868, 766, 811, 'Diamond')])
legend((741, 934, 880, 980), [('line', C_HER, 948, 748, 793, 'VXD_FW225'),
                              ('line', C_LER, 966, 748, 793, 'VXD_FW135')])

legend((1697, 128, 1783, 174), [('line', C_LER, 142, 1704, 1749, 'LER'),
                                ('line', C_HER, 160, 1704, 1749, 'HER')])
legend((1682, 183, 1783, 222), [('line', C_HREP, 202.5, 1689, 1734, 'HER')], size=16.5,
       family=SANS)
legend((1644, 247, 1783, 293), [('dot', C_Q1, 261.7, 1652, 1677, 'QMD8E_1(nC)'),
                                ('dot', C_Q2, 279.7, 1652, 1677, 'QMD8E_2(nC)')])
legend((1671, 307, 1783, 335), [('dot', C_RATE, 321, 1679, 1704, 'Inj.Rate')])
legend((1626, 367, 1783, 431), [('dot', 'black', 380, 1634, 1659, 'Inj.Eff(BCM1)'),
                                ('dot', '#808080', 398, 1634, 1659, 'Inj.Eff(BCM2)'),
                                ('none', None, 416, 1634, 1659, 'Inj.Eff')])
legend((1670, 431, 1783, 458), [('line', C_ECL, 444.5, 1677, 1722, 'ECL_FW')])
legend((1652, 506, 1783, 553), [('line', C_DUR, 529, 1659, 1704, ''),
                                ('none', None, 520, 0, 1704, 'ECL BG'),
                                ('none', None, 538, 0, 1704, 'Duration')])
legend((1679, 600, 1783, 646), [('line', '#ffa500', 614.5, 1686, 1731, 'SR_FW'),
                                ('line', C_LER, 632.5, 1686, 1731, 'SR_BW')])
legend((1652, 685, 1783, 714), [('line', C_TOP, 699.5, 1659, 1704, 'TOP [Hz]')])
legend((1670, 770, 1783, 816), [('line', C_CDC, 784, 1677, 1722, 'CDC'),
                                ('line', C_CDCAV, 802.5, 1677, 1722, 'CDC_av')])
legend((1661, 856, 1783, 885), [('line', C_DIA, 870.5, 1668, 1713, 'Diamond')])
legend((1643, 942, 1783, 988), [('line', C_LER, 955, 1650, 1695, 'VXD_BW180'),
                                ('line', C_HER, 973, 1650, 1695, 'VXD_BW270')])

# canvas borders
for xb in (1.5, 901, 905, 1804):
    fig.lines.append(Line2D([fx(xb), fx(xb)], [0, 1], color='#c8c8c8', lw=2,
                            transform=fig.transFigure))

fig.savefig('out.png', dpi=100)
